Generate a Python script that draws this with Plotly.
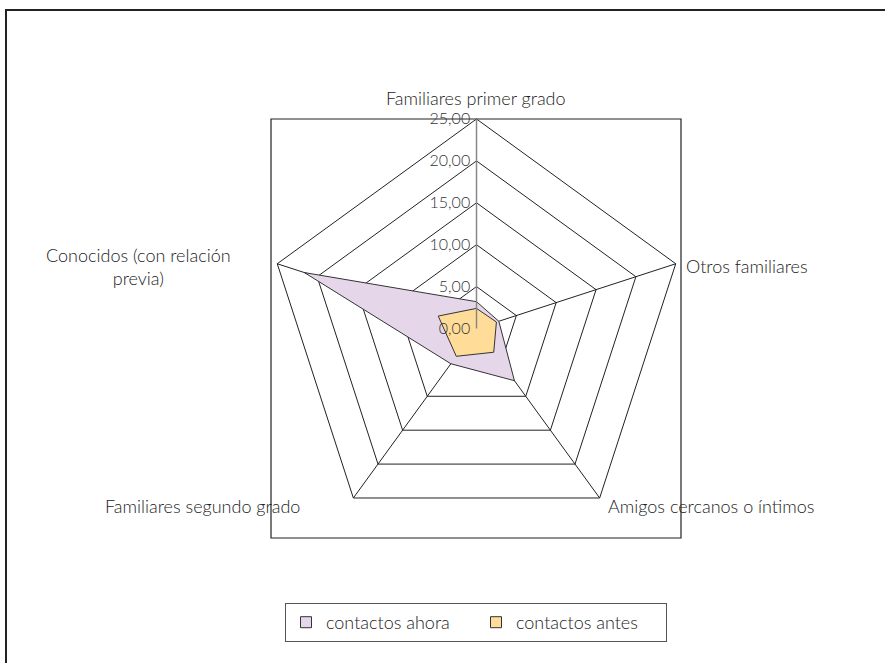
import plotly.graph_objects as go

# ── Datos ──────────────────────────────────────────────
categorias = [
    "Familiares primer grado",
    "Otros familiares",
    "Amigos cercanos o íntimos",
    "Familiares segundo grado",
    "Conocidos (con relación previa)",
]
contactos_ahora = [3.2, 2.8, 7.7, 5.2, 21.6]
contactos_antes = [2.4, 2.5, 3.5, 4.1, 4.8]
ticks_radiales = [0, 5, 10, 15, 20, 25]

_LILA = "#E6D6E9"
_NARANJA = "#FFDD99"
_TEXTO = "#222222"
_FUENTE = "Lato, 'Open Sans', sans-serif"

W, H = 885, 663
L, R, T, B = 267, 199, 119, 125
PW, PH = W - L - R, H - T - B


def _px(x):
    return (x - L) / PW


def _py(y):
    return (H - B - y) / PH


def _cerrar(v):
    return v + v[:1]


fig = go.Figure()
fig.add_trace(go.Scatterpolar(
    r=_cerrar(contactos_ahora), theta=_cerrar(categorias),
    name="contactos ahora", mode="lines", fill="toself",
    fillcolor=_LILA, line=dict(color="#333333", width=1),
    showlegend=False,
))
fig.add_trace(go.Scatterpolar(
    r=_cerrar(contactos_antes), theta=_cerrar(categorias),
    name="contactos antes", mode="lines", fill="toself",
    fillcolor=_NARANJA, line=dict(color="#333333", width=1),
    showlegend=False,
))
# entradas de leyenda con símbolo cuadrado
for nombre, color in [("contactos ahora", _LILA), ("contactos antes", _NARANJA)]:
    fig.add_trace(go.Scatterpolar(
        r=[None], theta=[categorias[0]], name=nombre, mode="markers",
        marker=dict(symbol="square", size=11, color=color,
                    line=dict(color="#333333", width=1)),
    ))

# rótulos de categorías (posición como en el original)
rotulos = [
    (categorias[0], 476, 98, "center"),
    (categorias[1], 684, 266, "left"),
    (categorias[2], 606, 506, "left"),
    (categorias[3], 302, 506, "right"),
    ("Conocidos (con relación<br>previa)", 138, 266, "center"),
]
anotaciones = []
for texto, x, y, al in rotulos:
    anotaciones.append(dict(
        text=texto, xref="paper", yref="paper", x=_px(x), y=_py(y),
        xanchor=al, yanchor="middle", align="center", showarrow=False,
        font=dict(size=18, color=_TEXTO, family=_FUENTE, weight=300),
    ))

fig.update_layout(
    width=W, height=H,
    margin=dict(l=L, r=R, t=T, b=B, autoexpand=False),
    paper_bgcolor="white",
    separators=",.",
    font=dict(family=_FUENTE, color=_TEXTO, size=18, weight=300),
    polar=dict(
        domain=dict(x=[0, 1], y=[0, 1]),
        bgcolor="white",
        gridshape="linear",
        radialaxis=dict(
            range=[0, 25], tickvals=ticks_radiales, tickformat=".2f",
            angle=90, tickangle=90, side="counterclockwise",
            showline=True, linecolor="#888888", linewidth=1.5,
            gridcolor="#222222", gridwidth=1, ticks="",
            tickfont=dict(size=16, color="#333333", weight=300),
        ),
        angularaxis=dict(
            rotation=90, direction="clockwise",
            showline=True, linecolor="#222222", linewidth=1,
            gridcolor="#222222", gridwidth=1, ticks="",
            showticklabels=False,
        ),
    ),
    showlegend=True,
    legend=dict(
        orientation="h", x=_px(476), xanchor="center",
        y=_py(603), yanchor="top",
        bordercolor="#555555", borderwidth=1, bgcolor="white",
        font=dict(size=18, color=_TEXTO, weight=300),
        itemwidth=30, entrywidth=145,
    ),
    annotations=anotaciones,
    shapes=[
        # marco del área del gráfico
        dict(type="rect", xref="paper", yref="paper",
             x0=_px(271), x1=_px(681), y0=_py(538), y1=_py(119),
             line=dict(color="#222222", width=1.2), layer="below"),
        # marco exterior
        dict(type="rect", xref="paper", yref="paper",
             x0=_px(6), x1=_px(900), y0=_py(700), y1=_py(10),
             line=dict(color="#222222", width=2), layer="below"),
    ],
)

fig.write_html("out.html", config={"displayModeBar": False},
               post_script="document.body.style.margin='0';")
